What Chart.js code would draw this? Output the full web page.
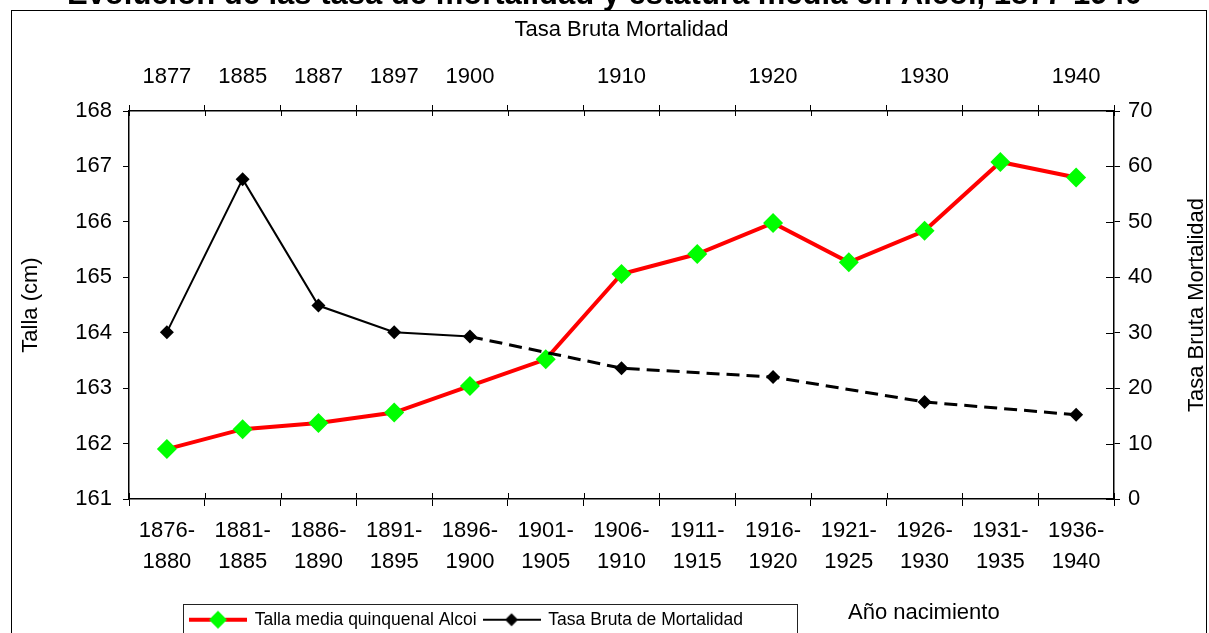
<!DOCTYPE html>
<html>
<head>
<meta charset="utf-8">
<script src="https://cdn.jsdelivr.net/npm/chart.js@4.4.1/dist/chart.umd.min.js"></script>
<style>
html,body{margin:0;padding:0;background:#fff;overflow:hidden}
#wrap{position:relative;width:1209px;height:633px;overflow:hidden;background:#fff}
#c{position:absolute;left:0;top:0}
</style>
</head>
<body>
<div id="wrap"><canvas id="c" width="1209" height="645"></canvas></div>
<script>
// ---- data ----
const categories = [
  ['1876-','1880'],['1881-','1885'],['1886-','1890'],['1891-','1895'],['1896-','1900'],
  ['1901-','1905'],['1906-','1910'],['1911-','1915'],['1916-','1920'],['1921-','1925'],
  ['1926-','1930'],['1931-','1935'],['1936-','1940']
];
const topYearLabels = ['1877','1885','1887','1897','1900','','1910','','1920','','1930','','1940'];
const tallaMedia = [161.9,162.26,162.37,162.56,163.04,163.52,165.06,165.42,165.98,165.27,165.84,167.08,166.8];
const tasaBrutaMortalidad = [30.1,57.7,34.9,30.1,29.3,null,23.6,null,22.0,null,17.5,null,15.2];
const leftRange = [161, 168, 1];
const rightRange = [0, 70, 10];

const chartTitle = 'Evolución de las tasa de mortalidad y estatura media en Alcoi, 1877-1940';
const seriesNames = ['Talla media quinquenal Alcoi', 'Tasa Bruta de Mortalidad'];
const leftTitle = 'Talla (cm)';
const rightTitle = 'Tasa Bruta Mortalidad';
const topTitle = 'Tasa Bruta Mortalidad';
const xTitle = 'Año nacimiento';

const FONT = "'Liberation Sans', Arial, Helvetica, sans-serif";
Chart.defaults.font.family = FONT;
Chart.defaults.font.size = 22;
Chart.defaults.color = '#000';

// legend marker images (line + diamond)
function makeMarker(lineColor, lineW, fill, r) {
  const c = document.createElement('canvas');
  c.width = 58; c.height = 22;
  const g = c.getContext('2d');
  g.strokeStyle = lineColor; g.lineWidth = lineW;
  g.beginPath(); g.moveTo(0, 11); g.lineTo(58, 11); g.stroke();
  g.fillStyle = fill;
  g.beginPath(); g.moveTo(29, 11 - r); g.lineTo(29 + r, 11); g.lineTo(29, 11 + r); g.lineTo(29 - r, 11); g.closePath(); g.fill();
  return c;
}
const markerImgs = [makeMarker('#ff0000', 4, '#00ff00', 9), makeMarker('#000000', 2, '#000000', 6.5)];

const decor = {
  id: 'decor',
  afterLayout(chart) {
    const lg = chart.legend;
    if (lg) { lg.left = 183; lg.right = 797; lg.top = 604; lg.bottom = 645; lg.width = 614; lg.height = 41; }
  },
  beforeDatasetsDraw(chart) {
    const {ctx, scales: {x, x2, y2}} = chart;
    ctx.save();
    ctx.strokeStyle = '#000'; ctx.lineWidth = 1;
    const n = x.ticks.length;
    const step = (x.right - x.left) / n;
    ctx.beginPath();
    for (let i = 0; i <= n; i++) {
      const px = Math.round(x.left + i * step) + 0.5;
      ctx.moveTo(px, x.top); ctx.lineTo(px, x.top - 6);
      ctx.moveTo(px, x2.bottom); ctx.lineTo(px, x2.bottom + 5);
    }
    y2.ticks.forEach(t => {
      const py = Math.round(y2.getPixelForValue(t.value)) + 0.5;
      ctx.moveTo(y2.left, py); ctx.lineTo(y2.left - 8, py);
    });
    ctx.stroke();
    ctx.restore();
  },
  afterDraw(chart) {
    const {ctx, chartArea} = chart;
    ctx.save();
    ctx.strokeStyle = '#000'; ctx.lineWidth = 1;
    ctx.strokeRect(11.5, 10.5, 1195, 700);
    // right axis title, reading bottom to top
    ctx.fillStyle = '#000';
    ctx.font = '22px ' + FONT;
    ctx.textAlign = 'center'; ctx.textBaseline = 'middle';
    ctx.save();
    ctx.translate(1197, (chartArea.top + chartArea.bottom) / 2);
    ctx.rotate(-Math.PI / 2);
    ctx.fillText(rightTitle, 0, 0);
    ctx.restore();
    // x axis title
    ctx.textAlign = 'left';
    ctx.fillText(xTitle, 848, 613);
    // legend box
    ctx.strokeStyle = '#222';
    ctx.strokeRect(183.5, 604.5, 614, 60);
    ctx.restore();
  }
};

const axisBorder = {display: true, color: '#000', width: 1.5};

new Chart(document.getElementById('c'), {
  type: 'line',
  data: {
    labels: categories,
    datasets: [
      {
        label: seriesNames[0],
        data: tallaMedia,
        xAxisID: 'x', yAxisID: 'y',
        borderColor: '#ff0000', borderWidth: 4,
        pointStyle: 'rectRot', pointRadius: 10, pointHoverRadius: 10,
        pointBackgroundColor: '#00ff00', pointBorderColor: '#00ff00', pointBorderWidth: 0,
        tension: 0, order: 2
      },
      {
        label: seriesNames[1],
        data: tasaBrutaMortalidad,
        xAxisID: 'x', yAxisID: 'y2',
        borderColor: '#000', borderWidth: 2,
        pointStyle: 'rectRot', pointRadius: 7, pointHoverRadius: 7,
        pointBackgroundColor: '#000', pointBorderColor: '#000', pointBorderWidth: 0,
        spanGaps: true, tension: 0, order: 1,
        segment: {
          borderDash: c => c.p0DataIndex >= 4 ? [13, 7] : undefined,
          borderWidth: c => c.p0DataIndex >= 4 ? 3 : undefined
        }
      }
    ]
  },
  options: {
    responsive: false,
    animation: false,
    layout: {padding: 0},
    plugins: {
      title: {
        display: true, text: chartTitle, color: '#000',
        font: {size: 31, weight: 'bold', lineHeight: 1},
        padding: {top: -20, bottom: -11}
      },
      legend: {
        position: 'bottom', align: 'start', maxHeight: 1,
        labels: {
          usePointStyle: true, pointStyleWidth: 56, boxHeight: 17.5, padding: 7,
          font: {size: 17.5}, color: '#000',
          generateLabels(chart) {
            const items = Chart.defaults.plugins.legend.labels.generateLabels(chart);
            items.forEach(it => { it.pointStyle = markerImgs[it.datasetIndex]; it.lineWidth = 0; });
            return items.sort((a, b) => a.datasetIndex - b.datasetIndex);
          }
        }
      },
      tooltip: {enabled: false}
    },
    scales: {
      x: {
        type: 'category', position: 'bottom', offset: true,
        grid: {display: true, offset: true, drawOnChartArea: false, drawTicks: true, tickLength: 7, color: '#000', lineWidth: 1},
        border: axisBorder,
        ticks: {autoSkip: false, maxRotation: 0, minRotation: 0, padding: 9.5, color: '#000', font: {size: 22, lineHeight: 1.41}},
        afterFit: s => { s.height = 145; }
      },
      x2: {
        type: 'category', position: 'top', labels: topYearLabels, offset: true,
        grid: {display: true, offset: true, drawOnChartArea: false, drawTicks: true, tickLength: 6, color: '#000', lineWidth: 1},
        border: axisBorder,
        ticks: {autoSkip: false, maxRotation: 0, minRotation: 0, padding: 14.8, color: '#000', font: {size: 22}},
        title: {display: true, text: topTitle, color: '#000', font: {size: 22}, padding: {top: 16.8, bottom: 0}},
        afterFit: s => { s.height = 111; }
      },
      y: {
        type: 'linear', position: 'left', min: leftRange[0], max: leftRange[1],
        ticks: {stepSize: leftRange[2], padding: 11, color: '#000', font: {size: 22}},
        grid: {drawOnChartArea: false, tickLength: 6, color: '#000', lineWidth: 1},
        border: axisBorder,
        title: {display: true, text: leftTitle, color: '#000', font: {size: 22}, padding: {top: 17.3, bottom: 0}},
        afterFit: s => { s.width = 129; }
      },
      y2: {
        type: 'linear', position: 'right', min: rightRange[0], max: rightRange[1],
        ticks: {stepSize: rightRange[2], padding: 8, color: '#000', font: {size: 22}},
        grid: {drawOnChartArea: false, tickLength: 6, color: '#000', lineWidth: 1},
        border: axisBorder,
        afterFit: s => { s.width = 95; }
      }
    }
  },
  plugins: [decor]
});
</script>
</body>
</html>
